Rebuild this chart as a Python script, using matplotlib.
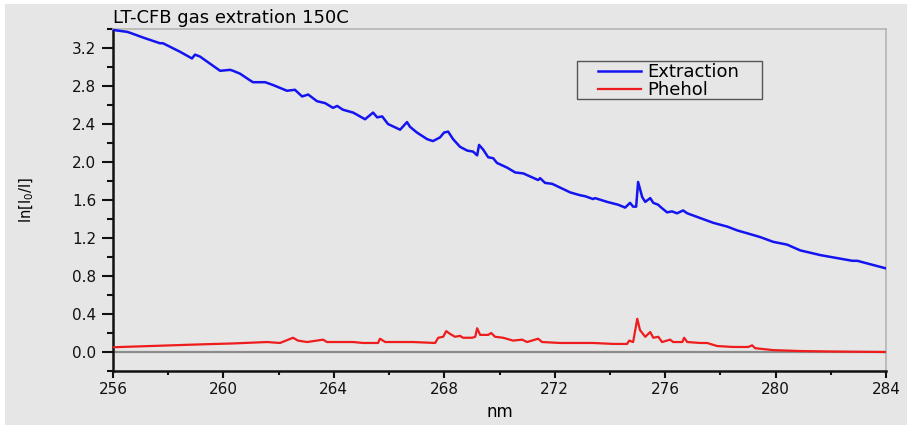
import numpy as np
import matplotlib.pyplot as plt
from matplotlib.patches import Rectangle
from matplotlib.ticker import MultipleLocator

plt.rcParams['font.family'] = ['DejaVu Sans']

# absorbance spectra, wavelength in nm
extraction_nm = [256.00, 256.51, 256.62, 257.09, 257.70, 257.81, 258.43, 258.86, 258.97, 259.15,
                 259.88, 260.24, 260.35, 260.60, 260.96, 261.07, 261.51, 261.80, 262.30, 262.59,
                 262.85, 263.07, 263.39, 263.68, 263.97, 264.12, 264.33, 264.70, 265.13, 265.42,
                 265.57, 265.75, 265.96, 266.40, 266.65, 266.76, 267.01, 267.38, 267.59, 267.85,
                 267.99, 268.14, 268.32, 268.57, 268.83, 269.04, 269.19, 269.26, 269.41, 269.59,
                 269.77, 269.91, 270.28, 270.57, 270.86, 271.40, 271.47, 271.65, 271.91, 272.20,
                 272.56, 272.92, 273.10, 273.39, 273.46, 273.90, 274.30, 274.55, 274.73, 274.84,
                 274.95, 275.02, 275.17, 275.28, 275.46, 275.57, 275.75, 275.82, 276.07, 276.25,
                 276.43, 276.65, 276.80, 277.27, 277.74, 278.25, 278.61, 278.97, 279.44, 279.91,
                 280.42, 280.89, 281.62, 282.78, 282.96, 284.00]
extraction = [3.39, 3.37, 3.36, 3.31, 3.25, 3.25, 3.16, 3.09, 3.13, 3.11,
              2.96, 2.97, 2.96, 2.93, 2.86, 2.84, 2.84, 2.81, 2.75, 2.76,
              2.69, 2.71, 2.64, 2.62, 2.57, 2.59, 2.55, 2.52, 2.45, 2.52,
              2.47, 2.48, 2.40, 2.34, 2.42, 2.37, 2.31, 2.24, 2.22, 2.26,
              2.31, 2.32, 2.24, 2.16, 2.12, 2.11, 2.07, 2.18, 2.13, 2.05,
              2.04, 1.99, 1.94, 1.89, 1.88, 1.81, 1.83, 1.78, 1.77, 1.73,
              1.68, 1.65, 1.64, 1.61, 1.62, 1.58, 1.55, 1.52, 1.57, 1.53,
              1.53, 1.79, 1.63, 1.58, 1.62, 1.57, 1.55, 1.53, 1.47, 1.48,
              1.46, 1.49, 1.46, 1.41, 1.36, 1.32, 1.28, 1.25, 1.21, 1.16,
              1.13, 1.07, 1.02, 0.96, 0.96, 0.88]

phenol_nm = [256.00, 259.15, 260.35, 261.58, 262.05, 262.52, 262.70, 263.03, 263.61, 263.75,
             264.12, 264.70, 265.06, 265.60, 265.67, 265.86, 266.87, 267.67, 267.78, 267.96,
             268.07, 268.21, 268.39, 268.57, 268.68, 269.01, 269.12, 269.19, 269.30, 269.59,
             269.70, 269.84, 270.13, 270.49, 270.82, 271.00, 271.40, 271.54, 272.20, 273.03,
             273.39, 274.12, 274.62, 274.70, 274.84, 274.99, 275.09, 275.28, 275.46, 275.57,
             275.75, 275.89, 276.18, 276.29, 276.62, 276.69, 276.80, 277.27, 277.52, 277.88,
             278.46, 279.01, 279.15, 279.26, 279.91, 280.89, 282.09, 284.00]
phenol = [0.05, 0.08, 0.09, 0.105, 0.095, 0.15, 0.12, 0.105, 0.13, 0.105,
          0.105, 0.105, 0.095, 0.095, 0.14, 0.105, 0.105, 0.095, 0.15, 0.16,
          0.22, 0.19, 0.16, 0.17, 0.15, 0.15, 0.16, 0.25, 0.18, 0.18,
          0.20, 0.16, 0.15, 0.12, 0.13, 0.105, 0.14, 0.105, 0.095, 0.095,
          0.095, 0.085, 0.085, 0.12, 0.105, 0.35, 0.23, 0.16, 0.21, 0.15,
          0.16, 0.105, 0.13, 0.105, 0.105, 0.15, 0.105, 0.095, 0.095, 0.063,
          0.053, 0.053, 0.07, 0.04, 0.02, 0.01, 0.005, 0.0]

bg = '#e6e6e6'
fig = plt.figure(figsize=(9.07, 4.25), dpi=100, facecolor='white')
fig.patches.append(Rectangle((5 / 907, 0), 1, 421 / 425, transform=fig.transFigure,
                             facecolor=bg, edgecolor='none', zorder=-10))
ax = fig.add_axes([113 / 907, 1 - 371 / 425, 773 / 907, 342 / 425])
ax.set_facecolor(bg)

ax.axhline(0, color='#8c8c8c', lw=1.6, zorder=1)
ax.plot(extraction_nm, extraction, color='#1414f0', lw=1.8, label='Extraction', zorder=3)
ax.plot(phenol_nm, phenol, color='#ee1c1c', lw=1.6, label='Phehol', zorder=3)

ax.set_xlim(256, 284)
ax.set_ylim(-0.2, 3.4)
ax.xaxis.set_major_locator(MultipleLocator(4))
ax.xaxis.set_minor_locator(MultipleLocator(2))
ax.yaxis.set_major_locator(MultipleLocator(0.4))
ax.yaxis.set_minor_locator(MultipleLocator(0.2))
ax.yaxis.set_major_formatter(plt.FuncFormatter(lambda v, p: '%.1f' % v))

for side in ('left', 'bottom'):
    ax.spines[side].set_linewidth(1.8)
    ax.spines[side].set_color('#111111')
for side in ('top', 'right'):
    ax.spines[side].set_linewidth(1.2)
    ax.spines[side].set_color('#b4b4b4')

ax.tick_params(which='both', direction='out', width=1.5, colors='#111111',
               labelsize=11, top=False, right=False)
ax.tick_params(axis='y', which='major', length=8, pad=4)
ax.tick_params(axis='y', which='minor', length=4.5)
ax.tick_params(axis='x', which='major', length=5, pad=3)
ax.tick_params(axis='x', which='minor', length=3)

ax.set_xlabel('nm', fontsize=12, labelpad=4)
ax.set_ylabel('ln[I$_0$/I]', fontsize=10.5, labelpad=26)
ax.set_title('LT-CFB gas extration 150C', loc='left', fontsize=13, pad=4)

# legend box drawn separately so the entries can sit with a wider left margin
ax.add_patch(Rectangle((0.600, 0.795), 0.240, 0.111, transform=ax.transAxes,
                       facecolor=bg, edgecolor='#555555', lw=1.0, zorder=4))
leg = ax.legend(loc='upper left', bbox_to_anchor=(0.627, 0.900), fontsize=13,
                frameon=False, handlelength=2.4, borderpad=0, labelspacing=0.0,
                handletextpad=0.35, borderaxespad=0)
leg.set_zorder(5)

fig.savefig('out.png', dpi=100, facecolor=fig.get_facecolor())
